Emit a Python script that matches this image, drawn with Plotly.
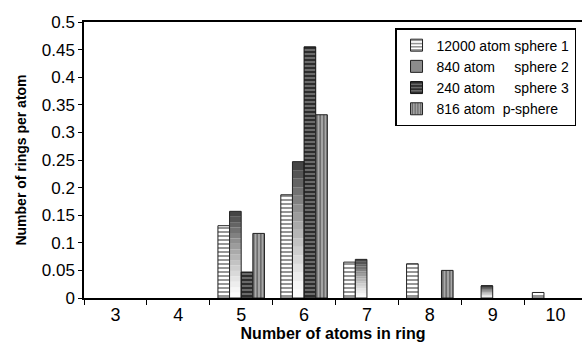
import plotly.graph_objects as go

categories = ["3", "4", "5", "6", "7", "8", "9", "10"]
s1_12000 = [0, 0, 0.131, 0.187, 0.065, 0.062, 0, 0.010]
s2_840 = [0, 0, 0.157, 0.247, 0.070, 0, 0.022, 0]
s3_240 = [0, 0, 0.047, 0.455, 0, 0, 0, 0]
s4_816 = [0, 0, 0.117, 0.332, 0, 0.050, 0, 0]

names = ["12000 atom sphere 1",
         "840 atom\u00a0\u00a0\u00a0\u00a0 sphere 2",
         "240 atom\u00a0\u00a0\u00a0\u00a0 sphere 3",
         "816 atom\u00a0 p-sphere"]

FONT = "Liberation Sans, Arial, sans-serif"


def nz(vals):
    # zero-height bars are not drawn in the reference
    return [v if v else None for v in vals]


fig = go.Figure()

# series 1: white with gray horizontal stripes
fig.add_trace(go.Bar(
    x=categories, y=nz(s1_12000), name=names[0], offsetgroup="a", legendrank=1,
    marker=dict(color="white", line=dict(color="#222", width=1),
                pattern=dict(shape="-", bgcolor="white", fgcolor="#8a8a8a",
                             size=4, solidity=0.45, fillmode="replace")),
))

# series 2: vertical gradient (dark top -> white bottom) built from stacked slices of each value
n_seg = 16
top_rgb = (62, 62, 62)
for i in range(n_seg):
    t = (i + 0.5) / n_seg
    t2 = t ** 1.3
    c = tuple(int(255 + (tc - 255) * t2) for tc in top_rgb)
    fig.add_trace(go.Bar(
        x=categories, y=nz([v / n_seg for v in s2_840]),
        base=[v * i / n_seg for v in s2_840],
        offsetgroup="b", showlegend=False, hoverinfo="skip",
        marker=dict(color="rgb(%d,%d,%d)" % c, line=dict(width=0)),
    ))

# series 3: dark with black horizontal stripes
fig.add_trace(go.Bar(
    x=categories, y=nz(s3_240), name=names[2], offsetgroup="c", legendrank=3,
    marker=dict(color="#5a5a5a", line=dict(color="#111", width=1),
                pattern=dict(shape="-", bgcolor="#6a6a6a", fgcolor="#262626",
                             size=4, solidity=0.45, fillmode="replace")),
))

# series 4: mid gray with vertical stripes
fig.add_trace(go.Bar(
    x=categories, y=nz(s4_816), name=names[3], offsetgroup="d", legendrank=4,
    marker=dict(color="#999", line=dict(color="#222", width=1),
                pattern=dict(shape="|", bgcolor="#a8a8a8", fgcolor="#5e5e5e",
                             size=3.5, solidity=0.4, fillmode="replace")),
))

# series 2 outline (legend swatch uses the first point colour)
outline_colors = ["#8c8c8c"] + ["rgba(0,0,0,0)"] * (len(categories) - 1)
fig.add_trace(go.Bar(
    x=categories, y=nz(s2_840), name=names[1], offsetgroup="b", legendrank=2,
    marker=dict(color=outline_colors, line=dict(color="#222", width=1)),
))

fig.update_layout(
    width=582, height=348,
    margin=dict(l=84, r=0, t=22, b=50, autoexpand=False),
    paper_bgcolor="white", plot_bgcolor="white",
    barmode="group", bargap=0.26, bargroupgap=0,
    font=dict(family=FONT, color="black"),
    showlegend=True,
    legend=dict(x=0.988, y=0.978, xanchor="right", yanchor="top",
                bgcolor="white", bordercolor="black", borderwidth=1.5,
                font=dict(size=14, family=FONT, color="black"),
                traceorder="normal"),
    xaxis=dict(type="category", categoryorder="array", categoryarray=categories,
               range=[-0.5, 7.42], tickson="boundaries", ticks="outside",
               ticklen=5, tickcolor="black", showline=True, linecolor="black",
               linewidth=1.5, mirror=True, showgrid=False,
               tickfont=dict(size=18, family=FONT),
               title=dict(text="<b>Number of atoms in ring</b>",
                          font=dict(size=16, family=FONT), standoff=0)),
    yaxis=dict(range=[0, 0.5], dtick=0.05, tick0=0, ticks="outside",
               ticklen=4, tickcolor="black", showline=True, linecolor="black",
               linewidth=1.5, mirror=False, showgrid=False, zeroline=False,
               tickfont=dict(size=17, family=FONT),
               title=dict(text="<b>Number of rings per atom</b>",
                          font=dict(size=14, family=FONT), standoff=12)),
)

fig.write_html("out.html")
